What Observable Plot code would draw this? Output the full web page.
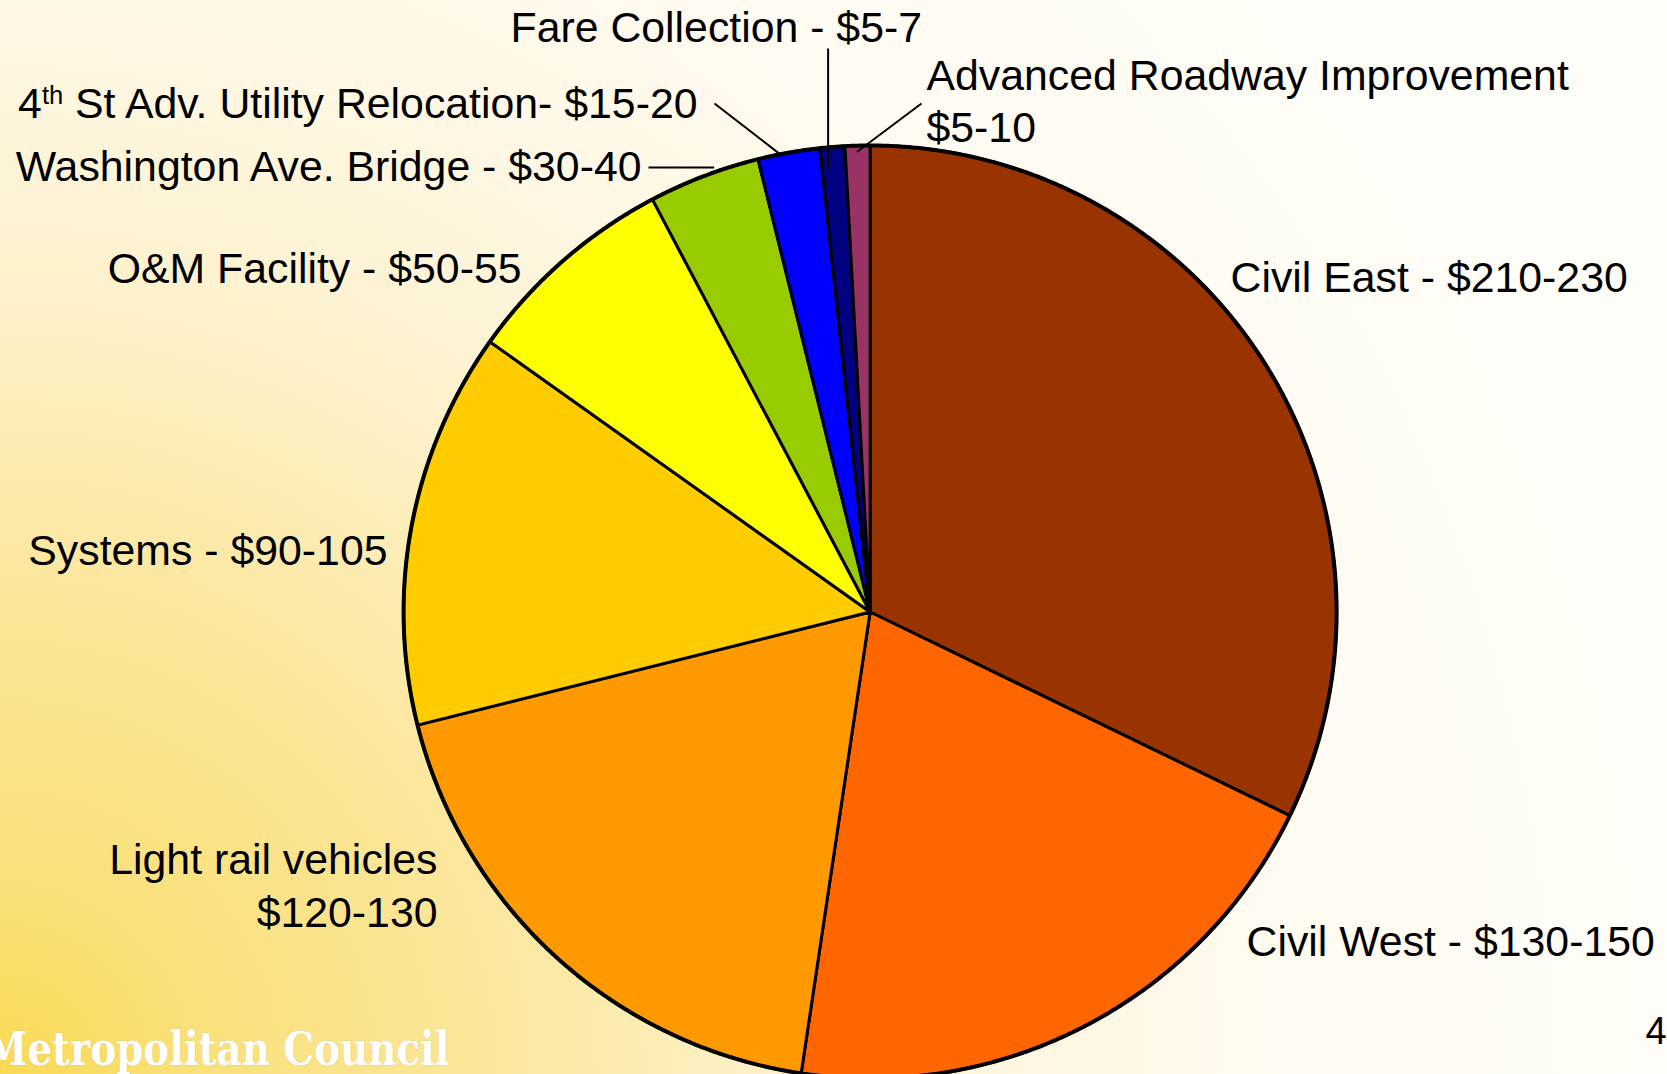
<!DOCTYPE html>
<html>
<head>
<meta charset="utf-8">
<script src="https://cdn.jsdelivr.net/npm/d3@7"></script>
<script src="https://cdn.jsdelivr.net/npm/@observablehq/plot@0.6"></script>
<style>
  html, body { margin: 0; padding: 0; }
  body {
    width: 1667px; height: 1074px; overflow: hidden;
    background: radial-gradient(circle 2000px at 0px 1074px,
      #F9DA55 0px, #FAE07A 200px, #FBE69A 480px, #FDF1CB 780px,
      #FEF7E4 1050px, #FFFBF1 1300px, #FFFDF8 1700px);
  }
  #chart svg { display: block; }
</style>
</head>
<body>
<div id="chart"></div>
<script>
// ---- data ----
const names = ["Civil East", "Civil West", "Light rail vehicles", "Systems", "O&M Facility",
  "Washington Ave. Bridge", "4th St Adv. Utility Relocation", "Fare Collection", "Advanced Roadway Improvement"];
const values = [225, 141, 131, 96, 52, 27, 15, 6, 6];
const labels = ["Civil East - $210-230", "Civil West - $130-150", "Light rail vehicles\n$120-130",
  "Systems - $90-105", "O&M Facility - $50-55", "Washington Ave. Bridge - $30-40",
  "4th St Adv. Utility Relocation- $15-20", "Fare Collection - $5-7", "Advanced Roadway Improvement\n$5-10"];
const colors = ["#993300", "#FF6600", "#FF9900", "#FFCC00", "#FFFF00", "#99CC00", "#0000FF", "#000080", "#993366"];
const footer = "Metropolitan Council";
const pageNumber = "4";

// ---- layout ----
const W = 1667, H = 1074;
const cx = 869.6, cy = 611.5, R = 466.5;
const labelX = [1230, 1246, 437, 387, 521, 641, 697, 510, 926];
const labelY = [275, 939, 883, 548, 266, 164, 101, 25, 99];
const labelAnchor = ["start", "start", "end", "end", "end", "end", "end", "start", "start"];
// leader lines: slice index, position within slice (0..1), radius factor, outer end (null = same as inner)
const leaders = [
  {i: 5, t: 0.61, rf: 1.01, ox: 648, oy: null},
  {i: 6, t: 0.34, rf: 1.003, ox: 714, oy: 103},
  {i: 7, t: 0.25, rf: 0.955, ox: null, oy: 48},
  {i: 8, t: 0.48, rf: 0.987, ox: 921, oy: 103}
];

// ---- geometry from data ----
const arcs = d3.pie().sort(null).value((d, i) => values[i])(names);
const pt = (a, r) => [cx + r * Math.sin(a), cy - r * Math.cos(a)];

const slicePts = [];
arcs.forEach((a) => {
  const name = names[a.index];
  slicePts.push({name, px: cx, py: cy});
  const n = Math.max(2, Math.ceil((a.endAngle - a.startAngle) / (Math.PI / 720)));
  for (let k = 0; k <= n; ++k) {
    const t = a.startAngle + (a.endAngle - a.startAngle) * k / n;
    const [px, py] = pt(t, R);
    slicePts.push({name, px, py});
  }
});
const ringPts = d3.range(0, 1441).map(k => {
  const [px, py] = pt(2 * Math.PI * k / 1440, R);
  return {px, py};
});
const leaderSegs = leaders.map(l => {
  const a = arcs[l.i];
  const ang = a.startAngle + (a.endAngle - a.startAngle) * l.t;
  const [x1, y1] = pt(ang, R * l.rf);
  return {x1, y1, x2: l.ox == null ? x1 : l.ox, y2: l.oy == null ? y1 : l.oy};
});
const labelData = labels.map((text, i) => ({text, x: labelX[i], y: labelY[i], anchor: labelAnchor[i]}));

const font = "Liberation Sans, Arial, Helvetica, sans-serif";

const chart = Plot.plot({
  width: W, height: H,
  margin: 0,
  style: {background: "transparent", overflow: "hidden"},
  x: {domain: [0, W], range: [0, W], axis: null},
  y: {domain: [0, H], range: [0, H], axis: null},
  color: {type: "ordinal", domain: names, range: colors},
  marks: [
    Plot.line(slicePts, {x: "px", y: "py", z: "name", fill: "name", stroke: "black",
      strokeWidth: 3, strokeLinejoin: "round", curve: "linear-closed"}),
    Plot.line(ringPts, {x: "px", y: "py", stroke: "black", strokeWidth: 4, fill: "none"}),
    Plot.link(leaderSegs, {x1: "x1", y1: "y1", x2: "x2", y2: "y2", stroke: "black", strokeWidth: 2}),
    Plot.text(labelData.filter(d => d.anchor === "start"), {x: "x", y: "y", text: "text",
      textAnchor: "start", fontFamily: font, fontSize: 42.8, lineHeight: 1.2, fill: "black"}),
    Plot.text(labelData.filter(d => d.anchor === "end"), {x: "x", y: "y", text: "text",
      textAnchor: "end", fontFamily: font, fontSize: 42.8, lineHeight: 1.24, fill: "black"}),
    Plot.text([footer], {x: () => -16, y: () => 1049, text: d => d, textAnchor: "start",
      fontFamily: "DejaVu Serif, Liberation Serif, serif", fontWeight: "bold", fontSize: 47,
      fill: "white", stroke: "#d9c070", strokeWidth: 0.6, ariaLabel: "footer"}),
    Plot.text([pageNumber], {x: () => 1645, y: () => 1031, text: d => d, textAnchor: "start",
      fontFamily: font, fontSize: 38, fill: "black"})
  ]
});
document.getElementById("chart").appendChild(chart);

// superscript "th" and footer width
chart.querySelectorAll("text").forEach(t => {
  const s = t.textContent;
  if (s.startsWith("4th St")) {
    while (t.firstChild) t.removeChild(t.firstChild);
    const ns = "http://www.w3.org/2000/svg";
    const a = document.createElementNS(ns, "tspan"); a.textContent = "4";
    const b = document.createElementNS(ns, "tspan"); b.textContent = "th";
    b.setAttribute("font-size", "25.5"); b.setAttribute("dy", "-14");
    const c = document.createElementNS(ns, "tspan"); c.textContent = s.slice(3);
    c.setAttribute("dy", "14");
    t.append(a, b, c);
  }
  if (s === footer) {
    t.setAttribute("textLength", "465");
    t.setAttribute("lengthAdjust", "spacingAndGlyphs");
  }
});
</script>
</body>
</html>
